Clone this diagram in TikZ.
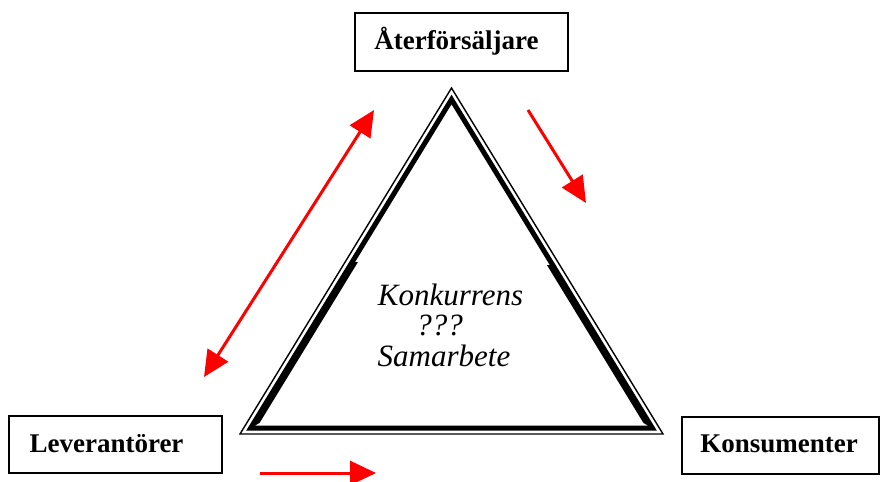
\documentclass[tikz,border=0pt]{standalone}
\usepackage{fontspec}
\setmainfont{Liberation Serif}
\usetikzlibrary{arrows.meta}
\begin{document}
\begin{tikzpicture}[x=1pt,y=-1pt,
  partybox/.style={draw, line width=1.6pt, inner sep=0pt, fill=white},
  partytext/.style={inner sep=0pt, anchor=base, font=\fontsize{27}{31}\selectfont\bfseries},
  middletext/.style={inner sep=0pt, anchor=base, font=\fontsize{31}{35}\selectfont\itshape},
  flowhead/.style={line width=3pt, red, -{Triangle[length=26pt,width=24pt]}},
  flowboth/.style={line width=3pt, red, {Triangle[length=26pt,width=24pt]}-{Triangle[length=26pt,width=24pt]}}
]
\useasboundingbox (0,0) rectangle (881,482);

% the three parties
\node[partybox, minimum width=213pt, minimum height=58pt] (retbox) at (461.5,42) {};
\node[partytext] (ret) at (456.5,49) {Återförsäljare};
\node[partybox, minimum width=213pt, minimum height=57pt] (supbox) at (115.5,444.5) {};
\node[partytext] (sup) at (106.5,452) {Leverantörer};
\node[partybox, minimum width=197pt, minimum height=57pt] (conbox) at (780.5,445.5) {};
\node[partytext] (con) at (779,452) {Konsumenter};

% central triangle: thin outer outline and thick inner outline
\coordinate (oA) at (451.5,88);
\coordinate (oB) at (240,434);
\coordinate (oC) at (663,434);
\coordinate (iA) at (451.5,99.5);
\coordinate (iB) at (250.7,428);
\coordinate (iC) at (652.3,428);
\draw[line width=1.4pt, line join=miter] (oA) -- (oB) -- (oC) -- cycle;
\draw[line width=5pt, line join=miter] (iA) -- (iB) -- (iC) -- cycle;
% the lower halves of the two sides are drawn heavier
\fill (354.4,262) -- (358.0,262) -- (259.6,422.9) -- (253.5,426.5) -- cycle;
\fill (550.4,265) -- (546.9,265) -- (643.4,422.9) -- (649.5,426.5) -- cycle;

% text inside the triangle
\node[middletext] (comp) at (450.5,305) {Konkurrens};
\node[middletext] (quest) at (439.5,335) {???};
\node[middletext] (coop) at (444,366) {Samarbete};

% red flows
\coordinate (dA) at (204,377);
\coordinate (dB) at (374,110);
\draw[flowboth] (dA) -- (dB);
\coordinate (rA) at (528,110);
\coordinate (rB) at (586,203);
\draw[flowhead] (rA) -- (rB);
\coordinate (sA) at (260,473);
\coordinate (sB) at (376,473);
\draw[flowhead] (sA) -- (sB);
\end{tikzpicture}
\end{document}
